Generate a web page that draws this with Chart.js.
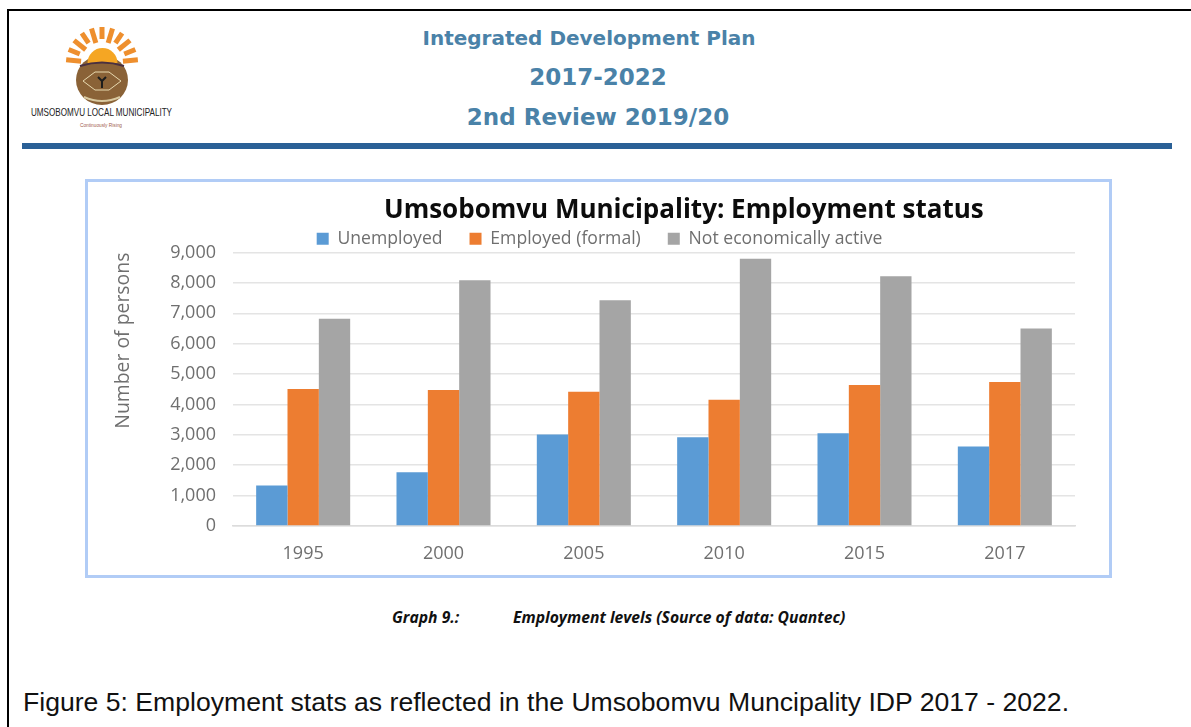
<!DOCTYPE html>
<html>
<head>
<meta charset="utf-8">
<title>Employment status</title>
<script src="https://cdn.jsdelivr.net/npm/chart.js@4"></script>
<style>
    html, body { margin: 0; padding: 0; background: #fff; overflow: hidden; }
    body { width: 1191px; height: 727px; position: relative; }
    .abs { position: absolute; white-space: pre; }
    .head { width: 400px; text-align: center; color: #4a82a8; font: bold 23px "DejaVu Sans"; line-height: 26px; }
    #frameTop { left: 7px; top: 9px; width: 1184px; height: 2px; background: #000; }
    #frameLeft { left: 7px; top: 9px; width: 2px; height: 718px; background: #000; }
    #rule { left: 22px; top: 143px; width: 1150px; height: 6px; background: #2a6096; }
    #chartBox { left: 85px; top: 179px; width: 1021px; height: 393px; border: 3px solid #b1ccf6; }
    #chartBox canvas { display: block; }
    #chartTitle { left: 384px; top: 190px; font: bold 26px "Open Sans"; line-height: 36px; color: #0c0c0c; }
    .cap { top: 607px; font: italic bold 15.7px "Open Sans"; line-height: 20px; color: #111; }
    #figNote { left: 23px; top: 687px; font: 26.6px "Liberation Sans"; line-height: 30px; color: #111; }
    #logo { left: 28px; top: 24px; }
</style>
</head>
<body>
<div class="abs" id="frameTop"></div>
<div class="abs" id="frameLeft"></div>

<svg class="abs" id="logo" width="148" height="106" viewBox="0 0 148 106">
    <g id="rays"></g>
    <ellipse cx="74" cy="56" rx="26" ry="25" fill="#8a6237"/>
    <path d="M59.5 39 a15 15 0 0 1 30 0 z" fill="#f5a623"/>
    <path d="M52 42 q22 -7 44 0" fill="none" stroke="#4a3040" stroke-width="2"/>
    <path d="M55 57 l12 -9 h14 l12 9 l-12 9 h-14 z" fill="none" stroke="#e8d9b0" stroke-width="1"/>
    <path d="M70 53 l4 4 l4 -4 M74 57 v7" fill="none" stroke="#1d1d1d" stroke-width="2"/>
    <path d="M56 73 q18 8 36 0" fill="none" stroke="#d9c9a0" stroke-width="2"/>
    <text x="3" y="92" font-family="Liberation Sans" font-size="11" fill="#222" textLength="141" lengthAdjust="spacingAndGlyphs">UMSOBOMVU LOCAL MUNICIPALITY</text>
    <text x="52" y="103" font-family="Liberation Sans" font-size="5.5" fill="#a0604a" textLength="42" lengthAdjust="spacingAndGlyphs">Continuously Rising</text>
</svg>

<div class="abs head" style="left:389px;top:25px;font-size:20px">Integrated Development Plan</div>
<div class="abs head" style="left:398px;top:64px">2017-2022</div>
<div class="abs head" style="left:398px;top:104px">2nd Review 2019/20</div>
<div class="abs" id="rule"></div>

<div class="abs" id="chartBox"><canvas id="employmentChart" width="1021" height="393"></canvas></div>
<div class="abs" id="chartTitle">Umsobomvu Municipality: Employment status</div>

<div class="abs cap" style="left:392px">Graph 9.:</div>
<div class="abs cap" style="left:513px">Employment levels (Source of data: Quantec)</div>
<div class="abs" id="figNote">Figure 5: Employment stats as reflected in the Umsobomvu Muncipality IDP 2017 - 2022.</div>

<script>
const years = ['1995', '2000', '2005', '2010', '2015', '2017'];
const unemployed = [1330, 1770, 3010, 2925, 3055, 2615];
const employedFormal = [4510, 4480, 4420, 4155, 4640, 4740];
const notActive = [6820, 8090, 7430, 8800, 8220, 6500];

// logo sun rays
const rays = document.getElementById('rays');
for (let i = 0; i < 11; i++) {
    const ray = document.createElementNS('http://www.w3.org/2000/svg', 'rect');
    ray.setAttribute('x', 71.5);
    ray.setAttribute('y', 3);
    ray.setAttribute('width', 5);
    ray.setAttribute('height', i % 2 ? 12 : 15);
    ray.setAttribute('fill', '#ee8f2e');
    ray.setAttribute('transform', 'rotate(' + (-85 + i * 17) + ' 74 39)');
    rays.appendChild(ray);
}

const tickFont = { family: 'Open Sans', size: 18 };
const textColor = '#6f6f6f';

// legend box is a bit too tall, and it sits right of centre in the original
const legendFit = {
    id: 'legendFit',
    beforeInit(chart) {
        const fit = chart.legend.fit;
        chart.legend.fit = function () {
            fit.call(this);
            this.height -= 5;
        };
    },
    afterLayout(chart) {
        chart.legend.left += 12;
    }
};

new Chart(document.getElementById('employmentChart').getContext('2d'), {
    type: 'bar',
    data: {
        labels: years,
        datasets: [
            { label: 'Unemployed', data: unemployed, backgroundColor: '#5b9bd5' },
            { label: 'Employed (formal)', data: employedFormal, backgroundColor: '#ed7d31' },
            { label: 'Not economically active', data: notActive, backgroundColor: '#a5a5a5' }
        ]
    },
    options: {
        animation: false,
        responsive: false,
        categoryPercentage: 0.67,
        barPercentage: 1,
        layout: { padding: { top: 21, left: 24, right: 34, bottom: 0 } },
        plugins: {
            tooltip: { enabled: false },
            title: { display: false },
            legend: {
                position: 'top',
                labels: {
                    boxWidth: 12,
                    boxHeight: 12,
                    padding: 27,
                    color: textColor,
                    font: { family: 'Open Sans', size: 17.6 }
                }
            }
        },
        scales: {
            x: {
                grid: { display: false },
                border: { color: '#dcdcdc', width: 1.5 },
                ticks: { color: textColor, font: tickFont, padding: 9 },
                afterFit(scale) { scale.height = 49; }
            },
            y: {
                min: 0,
                max: 9000,
                grid: { color: '#e4e4e4', lineWidth: 1.5, drawTicks: false },
                border: { display: false },
                ticks: {
                    stepSize: 1000,
                    color: textColor,
                    font: tickFont,
                    padding: 17,
                    callback: v => v.toLocaleString('en-US')
                },
                title: {
                    display: true,
                    text: 'Number of persons',
                    align: 'end',
                    color: textColor,
                    font: { family: 'Open Sans', size: 19.4 },
                    padding: 0
                },
                afterFit(scale) { scale.width = 121; }
            }
        }
    },
    plugins: [legendFit]
});
</script>
</body>
</html>
